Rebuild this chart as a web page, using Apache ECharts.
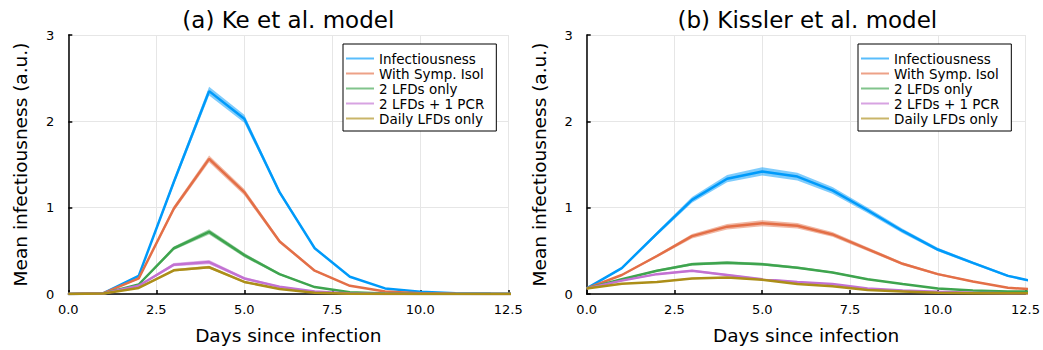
<!DOCTYPE html>
<html>
<head>
<meta charset="utf-8">
<script src="https://cdn.jsdelivr.net/npm/echarts@6/dist/echarts.min.js"></script>
<style>
  html, body { margin: 0; padding: 0; background: #ffffff; }
  #chart { width: 1043px; height: 350px; }
</style>
</head>
<body>
<div id="chart"></div>
<script>
// Days since infection at which the mean infectiousness was evaluated
const days = [0, 1, 2, 3, 4, 5, 6, 7, 8, 9, 10, 11, 12, 13];

const seriesNames = ['Infectiousness', 'With Symp. Isol', '2 LFDs only', '2 LFDs + 1 PCR', 'Daily LFDs only'];
const seriesRGB = [[0, 154, 250], [227, 111, 71], [62, 164, 78], [194, 113, 210], [172, 142, 24]];
const panelTitles = ['(a) Ke et al. model', '(b) Kissler et al. model'];
const xAxisTitle = 'Days since infection';
const yAxisTitle = 'Mean infectiousness (a.u.)';
const xTickLabels = ['0.0', '2.5', '5.0', '7.5', '10.0', '12.5'];
const yTickLabels = ['0', '1', '2', '3'];

// (a) Ke et al. model: mean values
const keInfectiousness = [0, 0.01, 0.21, 1.30, 2.35, 2.03, 1.18, 0.53, 0.20, 0.065, 0.027, 0.01, 0.005, 0.002];
const keSympIsol       = [0, 0.01, 0.18, 0.99, 1.565, 1.18, 0.61, 0.27, 0.095, 0.03, 0.01, 0.004, 0.001, 0];
const keTwoLfd         = [0, 0.005, 0.11, 0.53, 0.72, 0.45, 0.23, 0.08, 0.02, 0.005, 0.001, 0, 0, 0];
const keTwoLfdPcr      = [0, 0.005, 0.095, 0.34, 0.37, 0.18, 0.085, 0.03, 0.006, 0.001, 0, 0, 0, 0];
const keDailyLfd       = [0, 0.005, 0.07, 0.275, 0.31, 0.14, 0.057, 0.015, 0.002, 0, 0, 0, 0, 0];
// (a) Ke et al. model: half-width of the uncertainty ribbon
const keInfectiousnessBand = [0, 0.004, 0.012, 0.035, 0.05, 0.045, 0.025, 0.012, 0.006, 0.003, 0.002, 0.001, 0, 0];
const keSympIsolBand       = [0, 0.004, 0.012, 0.03, 0.04, 0.035, 0.022, 0.012, 0.006, 0.002, 0.001, 0, 0, 0];
const keTwoLfdBand         = [0, 0.003, 0.01, 0.02, 0.03, 0.024, 0.012, 0.006, 0.002, 0, 0, 0, 0, 0];
const keTwoLfdPcrBand      = [0, 0.003, 0.008, 0.018, 0.024, 0.016, 0.009, 0.004, 0.001, 0, 0, 0, 0, 0];
const keDailyLfdBand       = [0, 0.002, 0.006, 0.014, 0.016, 0.012, 0.006, 0.003, 0.001, 0, 0, 0, 0, 0];

// (b) Kissler et al. model: mean values
const kiInfectiousness = [0.065, 0.30, 0.70, 1.09, 1.335, 1.42, 1.36, 1.20, 0.97, 0.73, 0.515, 0.36, 0.21, 0.12];
const kiSympIsol       = [0.065, 0.22, 0.44, 0.67, 0.78, 0.82, 0.79, 0.69, 0.52, 0.35, 0.23, 0.145, 0.073, 0.045];
const kiTwoLfd         = [0.065, 0.17, 0.27, 0.345, 0.363, 0.345, 0.305, 0.25, 0.17, 0.115, 0.065, 0.04, 0.03, 0.03];
const kiTwoLfdPcr      = [0.065, 0.155, 0.23, 0.27, 0.22, 0.17, 0.14, 0.115, 0.065, 0.04, 0.025, 0.015, 0.01, 0.01];
const kiDailyLfd       = [0.065, 0.12, 0.14, 0.18, 0.19, 0.165, 0.115, 0.09, 0.045, 0.03, 0.015, 0.01, 0.008, 0.008];
// (b) Kissler et al. model: half-width of the uncertainty ribbon
const kiInfectiousnessBand = [0.006, 0.012, 0.022, 0.034, 0.042, 0.048, 0.044, 0.038, 0.032, 0.026, 0.02, 0.016, 0.012, 0.01];
const kiSympIsolBand       = [0.005, 0.009, 0.016, 0.026, 0.032, 0.034, 0.032, 0.027, 0.022, 0.016, 0.012, 0.008, 0.006, 0.005];
const kiTwoLfdBand         = [0.003, 0.007, 0.011, 0.016, 0.017, 0.016, 0.013, 0.011, 0.009, 0.006, 0.004, 0.003, 0.002, 0.002];
const kiTwoLfdPcrBand      = [0.003, 0.006, 0.009, 0.012, 0.011, 0.009, 0.008, 0.006, 0.004, 0.003, 0.002, 0.001, 0.001, 0.001];
const kiDailyLfdBand       = [0.003, 0.004, 0.006, 0.008, 0.008, 0.007, 0.006, 0.004, 0.003, 0.002, 0.001, 0.001, 0.001, 0.001];

const panels = [
  { means: [keInfectiousness, keSympIsol, keTwoLfd, keTwoLfdPcr, keDailyLfd],
    bands: [keInfectiousnessBand, keSympIsolBand, keTwoLfdBand, keTwoLfdPcrBand, keDailyLfdBand] },
  { means: [kiInfectiousness, kiSympIsol, kiTwoLfd, kiTwoLfdPcr, kiDailyLfd],
    bands: [kiInfectiousnessBand, kiSympIsolBand, kiTwoLfdBand, kiTwoLfdPcrBand, kiDailyLfdBand] }
];

const FONT = 'DejaVu Sans';
const rgba = (c, a) => 'rgba(' + c[0] + ',' + c[1] + ',' + c[2] + ',' + a + ')';

// Plot-area geometry of the two panels
const gridBoxes = [
  { left: 68.3, top: 35, width: 440, height: 261.7 },
  { left: 586.7, top: 35, width: 441.3, height: 261.7 }
];
const legendBoxes = [{ left: 343, top: 44 }, { left: 858, top: 44 }];

// Draws a ribbon (mean ± half-width) as a single polygon through the axis scales
function ribbonRenderer(xs, lo, hi, fill) {
  return function (params, api) {
    if (params.dataIndex !== 0) return null;
    const pts = [];
    for (let i = 0; i < xs.length; i++) pts.push(api.coord([xs[i], hi[i]]));
    for (let i = xs.length - 1; i >= 0; i--) pts.push(api.coord([xs[i], lo[i]]));
    const cs = params.coordSys;
    return {
      type: 'polygon',
      shape: { points: pts },
      style: { fill: fill, stroke: null },
      clipPath: { type: 'rect', shape: { x: cs.x, y: cs.y, width: cs.width, height: cs.height } }
    };
  };
}

const grid = [], xAxis = [], yAxis = [], series = [], legend = [], title = [];

panels.forEach((panel, p) => {
  const g = gridBoxes[p];
  grid.push({ left: g.left, top: g.top, width: g.width, height: g.height, containLabel: false });
  title.push({
    text: panelTitles[p],
    left: g.left + g.width / 2,
    top: 8,
    textAlign: 'center',
    padding: 0,
    textStyle: { fontFamily: FONT, fontSize: 23, fontWeight: 'normal', color: '#000' }
  });
  xAxis.push({
    type: 'value', gridIndex: p, min: 0, max: 12.5, interval: 2.5,
    name: xAxisTitle, nameLocation: 'middle', nameGap: 32,
    nameTextStyle: { fontFamily: FONT, fontSize: 18.5, color: '#000' },
    axisLine: { show: true, onZero: false, lineStyle: { color: '#000', width: 1.5 } },
    axisTick: { show: true, inside: true, length: 4, lineStyle: { color: '#000', width: 1.5 } },
    axisLabel: {
      fontFamily: FONT, fontSize: 13, color: '#000', margin: 9,
      formatter: v => xTickLabels[Math.round(v / 2.5)]
    },
    splitLine: { show: true, lineStyle: { color: '#e6e6e6', width: 1 } }
  });
  yAxis.push({
    type: 'value', gridIndex: p, min: 0, max: 3, interval: 1,
    name: yAxisTitle, nameLocation: 'middle', nameGap: 38,
    nameTextStyle: { fontFamily: FONT, fontSize: 18.5, color: '#000' },
    axisLine: { show: true, onZero: false, lineStyle: { color: '#000', width: 1.5 } },
    axisTick: { show: true, inside: true, length: 4, lineStyle: { color: '#000', width: 1.5 } },
    axisLabel: {
      fontFamily: FONT, fontSize: 13, color: '#000', margin: 14,
      formatter: v => yTickLabels[Math.round(v)]
    },
    splitLine: { show: true, lineStyle: { color: '#e6e6e6', width: 1 } }
  });

  panel.means.forEach((vals, s) => {
    const c = seriesRGB[s];
    const lo = vals.map((v, i) => Math.max(0, v - panel.bands[s][i]));
    const hi = vals.map((v, i) => v + panel.bands[s][i]);
    series.push({
      type: 'custom',
      name: seriesNames[s] + ' ribbon',
      xAxisIndex: p, yAxisIndex: p,
      data: days.map((d, i) => [d, lo[i], hi[i]]),
      encode: { x: 0, y: [1, 2] },
      renderItem: ribbonRenderer(days, lo, hi, rgba(c, 0.5)),
      silent: true,
      animation: false
    });
    series.push({
      type: 'line',
      name: seriesNames[s],
      xAxisIndex: p, yAxisIndex: p,
      data: days.map((d, i) => [d, vals[i]]),
      symbol: 'none',
      clip: true,
      lineStyle: { color: rgba(c, 1), width: 2.5 },
      itemStyle: { color: rgba(c, 1) },
      animation: false
    });
  });

  legend.push({
    orient: 'vertical',
    left: legendBoxes[p].left, top: legendBoxes[p].top,
    backgroundColor: '#fff',
    borderColor: '#000', borderWidth: 1, borderRadius: 0,
    padding: [7, 12, 5, 3],
    itemGap: 0,
    itemWidth: 28, itemHeight: 2,
    icon: 'rect',
    selectedMode: false,
    textStyle: { fontFamily: FONT, fontSize: 13.5, color: '#000', lineHeight: 15 },
    data: seriesNames.map((n, s) => ({ name: n, itemStyle: { color: rgba(seriesRGB[s], 0.65) } }))
  });
});

const chart = echarts.init(document.getElementById('chart'), null, { renderer: 'svg' });
chart.setOption({
  animation: false,
  backgroundColor: '#fff',
  title, grid, xAxis, yAxis, legend, series
});
</script>
</body>
</html>
